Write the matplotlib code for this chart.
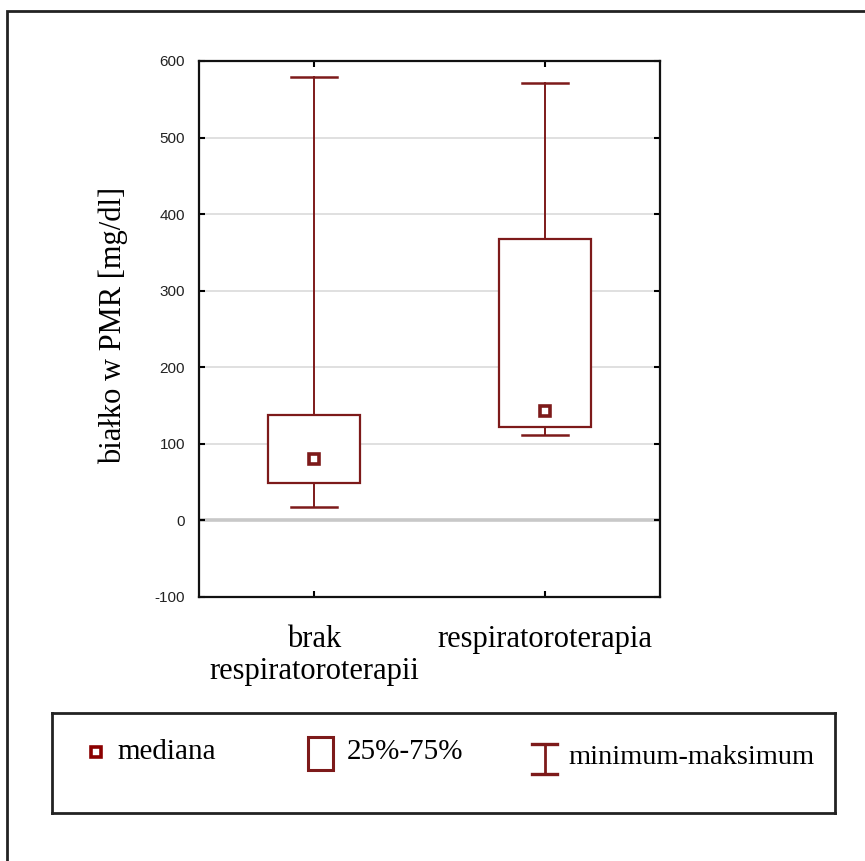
import matplotlib
matplotlib.use('Agg')
import matplotlib.pyplot as plt
from matplotlib.patches import Rectangle
from matplotlib.lines import Line2D

groups = ['brak\nrespiratoroterapii', 'respiratoroterapia']
mins = [17, 112]
q1 = [49, 122]
medians = [80, 143]
q3 = [138, 367]
maxs = [579, 571]
yticks = [-100, 0, 100, 200, 300, 400, 500, 600]
legend_labels = ['mediana', '25%-75%', 'minimum-maksimum']

red = '#7d1a1a'
serif = 'Liberation Serif'

fig = plt.figure(figsize=(8.65, 8.61), dpi=100)
ax = fig.add_axes([199/865, 1-597/861, 461/865, 536/861])

# grid lines, zero line drawn heavier
for y in yticks[2:-1]:
    ax.axhline(y, color='#dadada', lw=1.2, zorder=0)
ax.axhline(0, color='#c8c8c8', lw=2.6, zorder=0)

box_w = 0.4
cap_w = 0.2
for i in range(len(groups)):
    ax.plot([i, i], [q3[i], maxs[i]], color=red, lw=1.4, zorder=2)
    ax.plot([i, i], [mins[i], q1[i]], color=red, lw=1.4, zorder=2)
    ax.plot([i - cap_w/2, i + cap_w/2], [maxs[i], maxs[i]], color=red, lw=1.8, zorder=2)
    ax.plot([i - cap_w/2, i + cap_w/2], [mins[i], mins[i]], color=red, lw=1.8, zorder=2)
    ax.add_patch(Rectangle((i - box_w/2, q1[i]), box_w, q3[i] - q1[i],
                           facecolor='white', edgecolor=red, lw=1.6, zorder=3))
    ax.plot(i, medians[i], marker='s', ms=7.5, mfc='white', mec=red, mew=2.6, zorder=4)

ax.set_xlim(-0.5, 1.5)
ax.set_ylim(-100, 600)
ax.set_yticks(yticks)
ax.set_yticklabels([str(v) for v in yticks], fontfamily='Liberation Sans',
                   fontsize=11, color='#222222')
ax.set_xticks(range(len(groups)))
ax.set_xticklabels(groups, fontfamily=serif, fontsize=22, linespacing=1.15)
ax.tick_params(axis='both', direction='in', length=4, width=1.5,
               top=True, right=True)
ax.tick_params(axis='y', pad=10)
ax.tick_params(axis='x', pad=20)
for s in ax.spines.values():
    s.set_linewidth(1.6)
    s.set_color('#111111')

fig.text(113/865, 1-325/861, 'białko w PMR [mg/dl]', rotation=90,
         ha='center', va='center', fontfamily=serif, fontsize=22)

# outer frame
fig.patches.append(Rectangle((7/865, -0.05), 1.2, 1 - 11/861 + 0.05,
                             transform=fig.transFigure, fill=False,
                             edgecolor='#222222', lw=2))

# legend panel
lax = fig.add_axes([52/865, 1-813/861, 783/865, 100/861])
lax.set_xlim(0, 1)
lax.set_ylim(0, 1)
lax.set_xticks([])
lax.set_yticks([])
for s in lax.spines.values():
    s.set_linewidth(2)
    s.set_color('#222222')

lax.plot(0.0562, 0.61, marker='s', ms=7, mfc='white', mec='#8b0000', mew=2.6)
lax.text(0.084, 0.61, legend_labels[0], fontfamily=serif, fontsize=21, va='center')

lax.add_patch(Rectangle((0.327, 0.43), 0.032, 0.33, fill=False, edgecolor=red, lw=2.2))
lax.text(0.376, 0.61, legend_labels[1], fontfamily=serif, fontsize=21, va='center')

lax.add_line(Line2D([0.629, 0.629], [0.39, 0.69], color=red, lw=2))
lax.add_line(Line2D([0.613, 0.645], [0.69, 0.69], color=red, lw=2.4))
lax.add_line(Line2D([0.613, 0.645], [0.39, 0.39], color=red, lw=2.4))
lax.text(0.659, 0.55, legend_labels[2], fontfamily=serif, fontsize=20.5, va='center')

fig.savefig('out.png', dpi=100)
